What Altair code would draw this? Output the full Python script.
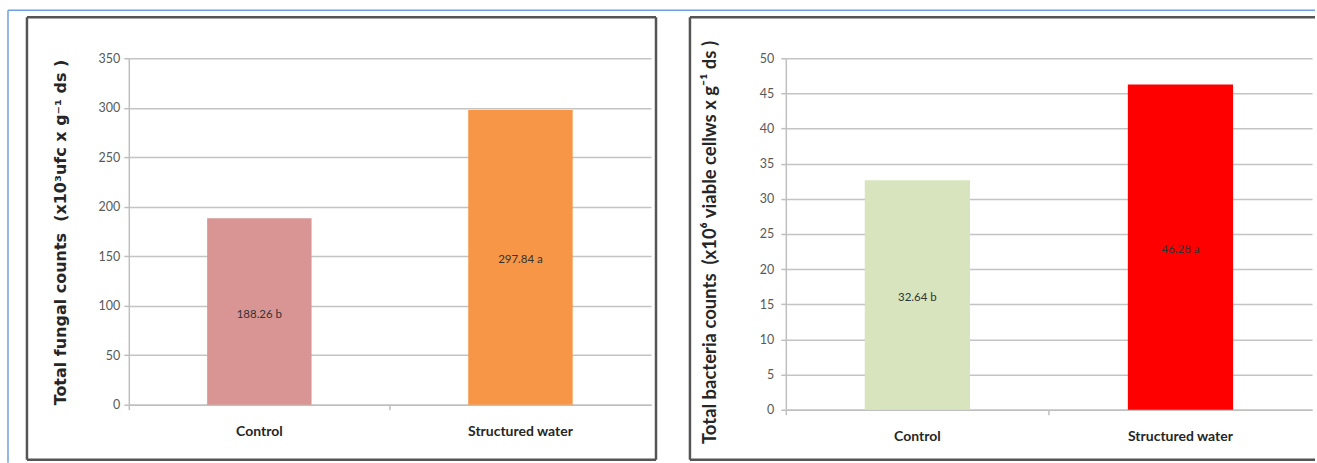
import altair as alt
import pandas as pd

categories = ["Control", "Structured water"]
fungal_values = [188.26, 297.84]
fungal_letters = ["b", "a"]
fungal_colors = ["#d99594", "#f79646"]
bacteria_values = [32.64, 46.28]
bacteria_letters = ["b", "a"]
bacteria_colors = ["#d7e4bd", "#ff0000"]

FONT = "Lato"

df_f = pd.DataFrame({"cat": categories, "val": fungal_values, "let": fungal_letters, "col": fungal_colors})
df_b = pd.DataFrame({"cat": categories, "val": bacteria_values, "let": bacteria_letters, "col": bacteria_colors})
one = pd.DataFrame({"a": [0]})

FRAME = "#555555"
BLUE = "#6f9fe0"
NB2 = "\u00a0\u00a0"


def rule(**kw):
    return alt.Chart(one).mark_rule(color=kw.pop("color", FRAME), strokeWidth=kw.pop("sw", 2.5)).encode(
        **{k: alt.value(v) for k, v in kw.items()})


def panel(df, ymax, ystep, title, w, h, frame, tpad, lpad, tfont, tsize, ty,
          close_right=True, blue=False):
    xaxis = alt.Axis(labelAngle=0, bandPosition=0, labelFontWeight="bold",
                     labelFontSize=14, labelColor="#262626", labelPadding=15,
                     labelFont=FONT, domainColor="#bfbfbf", domainWidth=1.5,
                     tickColor="#bfbfbf", tickSize=5, tickWidth=1.5, grid=False)
    yaxis = alt.Axis(values=list(range(0, ymax + 1, ystep)), grid=True,
                     gridColor="#c4c4c4", gridWidth=1.5, domainColor="#bfbfbf",
                     domainWidth=1.5, tickColor="#bfbfbf", tickSize=5, tickWidth=1.5,
                     labelColor="#595959", labelFontSize=12.5, labelFont=FONT,
                     labelPadding=lpad, titleFont=tfont, titleFontSize=tsize,
                     titleFontWeight="bold", titleColor="#262626", titlePadding=tpad,
                     titleY=ty)
    yscale = alt.Scale(domain=[0, ymax], nice=False)
    xscale = alt.Scale(paddingInner=0, paddingOuter=0)
    base = alt.Chart(df)
    bars = base.mark_bar(width=alt.RelativeBandSize(0.4)).encode(
        x=alt.X("cat:N", sort=categories, title=None, scale=xscale, axis=xaxis),
        y=alt.Y("val:Q", title=title, scale=yscale, axis=yaxis),
        color=alt.Color("col:N", scale=None, legend=None))
    labels = base.transform_calculate(
        mid="datum.val / 2", lab="format(datum.val, '.2f') + ' ' + datum.let"
    ).mark_text(fontSize=11.5, font=FONT, color="#333333", dy=3).encode(
        x=alt.X("cat:N", sort=categories, title=None, scale=xscale, axis=xaxis),
        y=alt.Y("mid:Q", title=title, scale=yscale, axis=yaxis),
        text="lab:N")
    fx0, fx1, fy0, fy1 = frame
    layers = [
        rule(x=fx0, x2=fx1, y=fy0),
        rule(x=fx0, x2=fx1, y=fy1),
        rule(x=fx0, y=fy0, y2=fy1),
    ]
    if close_right:
        layers.append(rule(x=fx1, y=fy0, y2=fy1))
    if blue:
        layers = [rule(color=BLUE, sw=1.5, x=-121, x2=1188, y=-48),
                  rule(color=BLUE, sw=1.5, x=-121, y=-48, y2=405)] + layers
    layers += [bars, labels]
    return alt.layer(*layers).properties(width=w, height=h)


left = panel(df_f, 350, 50, "Total fungal counts" + NB2 + "(x10³ufc x g⁻¹ ds )", 523, 347,
             (-102, 528, -41, 402), tpad=30, lpad=4, tfont="DejaVu Sans", tsize=16, ty=174,
             blue=True)
right = panel(df_b, 50, 5, "Total bacteria counts" + NB2 + "(x10⁶ viable cellws x g⁻¹ ds )", 527, 352,
              (-96, 530, -41, 402), tpad=40, lpad=7, tfont=FONT, tsize=18.5, ty=184,
              close_right=False)

chart = alt.hconcat(left, right, spacing=135, bounds="flush").properties(
    autosize=alt.AutoSizeParams(type="pad"),
    padding={"left": 7, "top": 9, "right": 0, "bottom": 0},
    background="white",
).configure_view(strokeWidth=0)

chart.save("out.html", embed_options={"renderer": "svg", "actions": False})
